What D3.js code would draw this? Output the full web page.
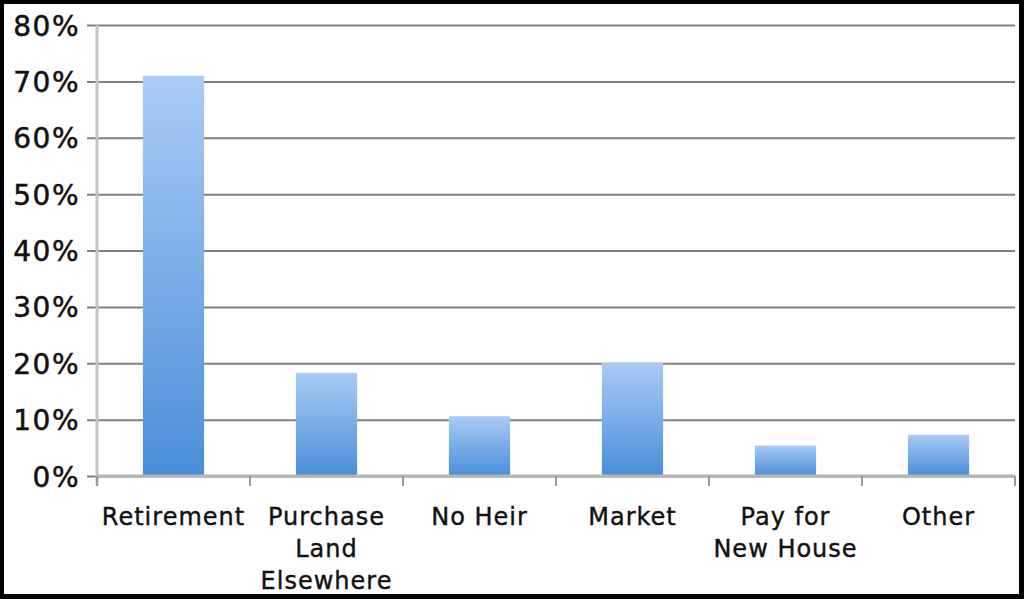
<!DOCTYPE html>
<html>
<head>
<meta charset="utf-8">
<script src="https://cdn.jsdelivr.net/npm/d3@7"></script>
<style>
  html, body { margin: 0; padding: 0; background: #000; }
  #wrapper { width: 1024px; height: 599px; }
  text { font-family: "DejaVu Sans", sans-serif; fill: #111; }
</style>
</head>
<body>
<div id="wrapper"></div>
<script>
const categories = [["Retirement"], ["Purchase", "Land", "Elsewhere"], ["No Heir"], ["Market"], ["Pay for", "New House"], ["Other"]];
const values = [0.71, 0.183, 0.106, 0.201, 0.054, 0.073];
const yTicks = [0, 0.1, 0.2, 0.3, 0.4, 0.5, 0.6, 0.7, 0.8];

function buildPlot(){
    const dimension = {
        width: 1024,
        height: 599,
        margin: { left: 97, right: 9, top: 25, bottom: 124 }
    };
    const data = categories.map((c, i) => ({ key: c.join(" "), lines: c, value: values[i] }));

    const svg = d3.select("#wrapper").append("svg")
        .attr("width", dimension.width).attr("height", dimension.height);

    // white panel inside black frame
    svg.append("rect").attr("x", 4).attr("y", 4)
        .attr("width", 1015).attr("height", 590).attr("fill", "#fff");

    const defs = svg.append("defs");
    const grad = defs.append("linearGradient").attr("id", "barGrad")
        .attr("x1", 0).attr("y1", 0).attr("x2", 0).attr("y2", 1);
    grad.append("stop").attr("offset", "0%").attr("stop-color", "#a9cbf6");
    grad.append("stop").attr("offset", "100%").attr("stop-color", "#4a8ed8");

    const xStart = dimension.margin.left;
    const xEnd = dimension.width - dimension.margin.right;

    const x_scale = d3.scaleBand()
        .domain(data.map(d => d.key))
        .range([xStart, xEnd])
        .paddingInner(0.6).paddingOuter(0.3);

    const y_scale = d3.scaleLinear()
        .domain([0, 0.8])
        .range([dimension.height - dimension.margin.bottom + 1, dimension.margin.top]);

    // gridlines + y labels
    const y_axis = d3.axisLeft(y_scale)
        .tickValues(yTicks)
        .tickFormat(d3.format(".0%"))
        .tickSize(-(xEnd - 87))
        .tickPadding(7);
    const gy = svg.append("g")
        .attr("transform", `translate(87,0)`)
        .call(y_axis);
    gy.select(".domain").remove();
    gy.selectAll(".tick line").attr("stroke", "#808080").attr("stroke-width", 2);
    gy.selectAll(".tick text")
        .attr("dy", "0.36em")
        .style("font-size", "28px")
        .style("letter-spacing", "1.5px")
        .style("font-family", "'DejaVu Sans', sans-serif")
        .attr("fill", "#111")
        .attr("stroke", "#111").attr("stroke-width", 0.5);

    // y axis line
    svg.append("line")
        .attr("x1", xStart).attr("x2", xStart)
        .attr("y1", y_scale(0.8)).attr("y2", y_scale(0) + 10)
        .attr("stroke", "#c4c4c4").attr("stroke-width", 3);

    // bars
    svg.append("g").selectAll("rect").data(data).join("rect")
        .attr("x", d => x_scale(d.key))
        .attr("width", x_scale.bandwidth())
        .attr("y", d => y_scale(d.value))
        .attr("height", d => y_scale(0) - y_scale(d.value))
        .attr("fill", "url(#barGrad)");

    // x axis baseline and category ticks
    const step = x_scale.step();
    svg.append("line")
        .attr("x1", xStart).attr("x2", xEnd)
        .attr("y1", y_scale(0)).attr("y2", y_scale(0))
        .attr("stroke", "#b5b5b5").attr("stroke-width", 3);
    svg.append("g").selectAll("line").data(d3.range(categories.length + 1)).join("line")
        .attr("x1", i => xStart + i * step).attr("x2", i => xStart + i * step)
        .attr("y1", y_scale(0)).attr("y2", y_scale(0) + 10)
        .attr("stroke", "#9a9a9a").attr("stroke-width", 2);

    // category labels
    const labels = svg.append("g").selectAll("text").data(data).join("text")
        .attr("text-anchor", "middle")
        .attr("x", d => x_scale(d.key) + x_scale.bandwidth() / 2)
        .attr("y", 525)
        .style("font-size", "24px")
        .style("letter-spacing", "1px")
        .attr("stroke", "#111").attr("stroke-width", 0.4);
    labels.selectAll("tspan").data(d => d.lines).join("tspan")
        .attr("x", function(){ return d3.select(this.parentNode).attr("x"); })
        .attr("dy", (t, i) => i === 0 ? 0 : 32)
        .text(t => t);
}
buildPlot();
</script>
</body>
</html>
